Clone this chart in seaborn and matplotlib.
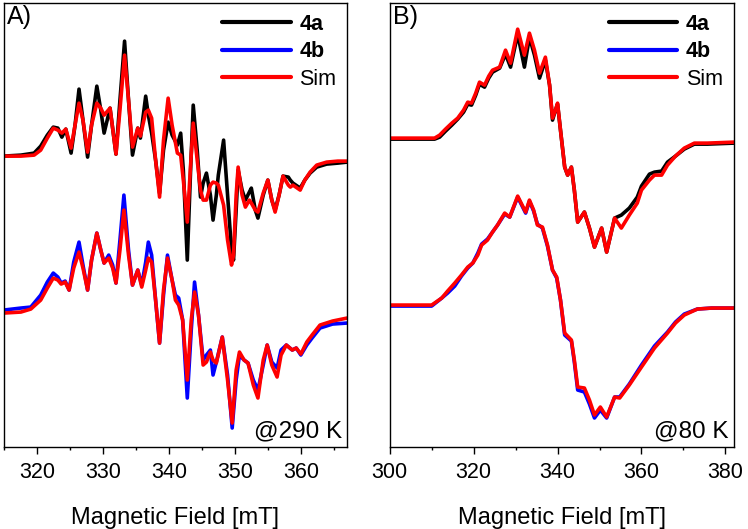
import matplotlib
matplotlib.use("Agg")
import matplotlib.pyplot as plt
from matplotlib.ticker import MultipleLocator
import seaborn as sns

# Panel A, 290 K: field [mT] and intensity [a.u., offset]
field_A_top = [315.0, 317.6, 319.6, 320.6, 321.6, 322.5, 323.2, 323.8, 324.4, 325.2,
               325.8, 326.4, 327.0, 327.7, 328.3, 329.1, 329.7, 330.2, 331.1, 332.0,
               332.6, 333.3, 333.9, 334.5, 335.3, 335.7, 336.5, 336.9, 337.4, 338.0,
               338.6, 339.2, 339.9, 340.5, 341.3, 341.8, 342.2, 342.8, 343.3, 343.7,
               344.3, 344.8, 345.2, 345.7, 346.3, 346.7, 347.2, 347.5, 348.3, 348.9,
               349.5, 349.8, 350.2, 350.5, 351.1, 351.6, 352.2, 352.5, 353.1, 353.5,
               354.3, 355.0, 355.6, 356.1, 356.7, 357.3, 358.1, 358.4, 358.8, 359.9,
               360.6, 361.4, 362.4, 363.9, 365.6, 367.0]
exp_4a_A = [3.04, 3.05, 3.07, 3.14, 3.25, 3.33, 3.32, 3.23, 3.31, 3.07,
            3.35, 3.71, 3.40, 3.03, 3.35, 3.74, 3.50, 3.27, 3.52, 3.06,
            3.60, 4.19, 3.60, 3.05, 3.32, 3.22, 3.64, 3.45, 3.27, 3.00,
            2.67, 3.10, 3.38, 3.25, 3.15, 3.27, 2.90, 2.00, 2.90, 3.55,
            3.10, 2.63, 2.77, 2.87, 2.65, 2.40, 2.65, 2.85, 3.20, 2.65,
            2.10, 2.00, 2.50, 2.90, 2.70, 2.60, 2.68, 2.72, 2.50, 2.42,
            2.65, 2.80, 2.60, 2.50, 2.65, 2.84, 2.83, 2.80, 2.77, 2.72,
            2.80, 2.87, 2.93, 2.96, 2.97, 2.98]
sim_4a_A = [3.04, 3.04, 3.05, 3.10, 3.22, 3.32, 3.30, 3.27, 3.31, 3.12,
            3.35, 3.57, 3.40, 3.08, 3.35, 3.57, 3.52, 3.45, 3.52, 3.06,
            3.50, 4.05, 3.60, 3.13, 3.32, 3.24, 3.48, 3.50, 3.42, 3.00,
            2.63, 3.20, 3.62, 3.35, 3.07, 3.05, 2.80, 2.38, 2.95, 3.37,
            3.00, 2.70, 2.60, 2.60, 2.75, 2.78, 2.77, 2.75, 2.55, 2.20,
            1.95, 2.05, 2.65, 2.93, 2.65, 2.53, 2.60, 2.57, 2.50, 2.48,
            2.67, 2.80, 2.60, 2.48, 2.65, 2.84, 2.75, 2.73, 2.75, 2.70,
            2.80, 2.88, 2.95, 2.98, 2.99, 2.99]

field_A_bot = [315.0, 317.6, 319.1, 320.6, 321.6, 322.5, 323.2, 323.7, 324.3, 324.9,
               325.6, 326.4, 327.0, 327.7, 328.3, 329.1, 329.7, 330.2, 330.9, 331.5,
               332.0, 332.6, 333.2, 333.9, 334.5, 335.3, 335.9, 336.5, 336.9, 337.4,
               338.0, 338.6, 339.2, 339.8, 340.5, 341.0, 341.5, 342.1, 342.8, 343.4,
               343.9, 344.5, 345.2, 345.7, 346.3, 346.7, 347.2, 348.1, 348.9, 349.6,
               350.2, 350.7, 351.4, 352.0, 352.8, 353.5, 354.3, 354.9, 355.6, 356.4,
               357.0, 357.8, 358.7, 359.3, 360.0, 360.9, 361.7, 362.9, 364.8, 367.0]
exp_4b_A = [1.50, 1.52, 1.53, 1.65, 1.78, 1.87, 1.83, 1.77, 1.79, 1.70,
            1.98, 2.18, 1.95, 1.70, 2.00, 2.27, 2.10, 1.97, 2.05, 1.95,
            1.77, 2.20, 2.65, 2.10, 1.75, 1.90, 1.75, 1.98, 2.18, 2.05,
            1.60, 1.17, 1.65, 2.05, 1.80, 1.65, 1.62, 1.40, 0.62, 1.30,
            1.78, 1.45, 1.00, 1.05, 1.10, 0.85, 0.98, 1.23, 0.85, 0.32,
            0.80, 1.05, 1.00, 0.97, 0.80, 0.70, 0.95, 1.15, 0.98, 0.92,
            1.10, 1.15, 1.10, 1.12, 1.05, 1.15, 1.22, 1.32, 1.36, 1.37]
sim_4b_A = [1.47, 1.48, 1.51, 1.60, 1.72, 1.82, 1.80, 1.76, 1.78, 1.70,
            1.92, 2.08, 1.92, 1.70, 2.00, 2.27, 2.10, 1.97, 2.02, 1.92,
            1.77, 2.10, 2.50, 2.05, 1.75, 1.90, 1.73, 1.90, 2.02, 1.98,
            1.60, 1.17, 1.70, 2.02, 1.80, 1.60, 1.55, 1.40, 0.80, 1.40,
            1.68, 1.45, 0.95, 0.98, 1.08, 1.00, 0.97, 1.23, 0.80, 0.37,
            0.90, 1.08, 1.00, 0.97, 0.75, 0.62, 1.00, 1.15, 0.95, 0.83,
            1.05, 1.15, 1.10, 1.12, 1.06, 1.18, 1.25, 1.35, 1.39, 1.42]

# Panel B, 80 K
field_B_top = [300.0, 310.7, 311.9, 313.3, 314.8, 316.2, 317.6, 318.6, 319.5, 320.5,
               321.4, 322.6, 323.6, 324.5, 326.2, 327.6, 328.8, 330.5, 332.1, 333.3,
               334.5, 335.7, 337.1, 338.1, 338.8, 339.5, 340.0, 340.7, 341.7, 342.4,
               343.3, 344.0, 344.8, 346.4, 347.6, 348.8, 350.5, 351.7, 353.6, 355.2,
               357.1, 359.0, 360.0, 361.9, 363.1, 364.8, 366.2, 368.1, 370.2, 372.6,
               375.7, 382.0]
exp_4a_B = [3.21, 3.21, 3.23, 3.29, 3.35, 3.41, 3.48, 3.56, 3.55, 3.65,
            3.76, 3.73, 3.82, 3.88, 3.92, 4.06, 3.93, 4.26, 3.93, 4.23,
            4.05, 3.82, 4.00, 3.75, 3.40, 3.50, 3.56, 3.30, 2.93, 2.85,
            2.93, 2.70, 2.38, 2.48, 2.32, 2.13, 2.32, 2.08, 2.42, 2.45,
            2.52, 2.63, 2.74, 2.86, 2.88, 2.89, 2.98, 3.04, 3.11, 3.16,
            3.16, 3.17]
sim_4a_B = [3.22, 3.22, 3.25, 3.31, 3.37, 3.42, 3.50, 3.58, 3.57, 3.67,
            3.78, 3.75, 3.84, 3.90, 3.93, 4.10, 3.97, 4.31, 4.05, 4.27,
            4.10, 3.87, 4.03, 3.75, 3.42, 3.50, 3.57, 3.30, 2.93, 2.85,
            2.93, 2.70, 2.38, 2.48, 2.32, 2.13, 2.32, 2.08, 2.42, 2.32,
            2.45, 2.57, 2.70, 2.80, 2.85, 2.85, 2.95, 3.04, 3.12, 3.17,
            3.17, 3.18]

field_B_bot = [300.0, 310.0, 312.4, 313.8, 315.5, 317.1, 318.6, 319.8, 321.0, 321.9,
               323.3, 324.5, 325.7, 327.4, 328.6, 330.5, 332.4, 333.3, 334.3, 335.2,
               336.4, 337.6, 338.8, 339.8, 340.7, 341.7, 343.3, 344.0, 344.8, 346.4,
               347.6, 348.8, 350.2, 351.7, 353.6, 354.8, 357.1, 360.0, 363.1, 366.2,
               368.1, 370.2, 373.3, 376.7, 382.0]
exp_4b_B = [1.54, 1.54, 1.62, 1.67, 1.74, 1.84, 1.92, 1.97, 2.07, 2.16,
            2.21, 2.28, 2.35, 2.46, 2.43, 2.63, 2.47, 2.59, 2.49, 2.36,
            2.32, 2.14, 1.90, 1.82, 1.60, 1.25, 1.19, 0.98, 0.70, 0.68,
            0.56, 0.42, 0.50, 0.42, 0.63, 0.63, 0.76, 0.95, 1.14, 1.28,
            1.38, 1.46, 1.51, 1.52, 1.52]
sim_4b_B = [1.55, 1.55, 1.62, 1.69, 1.77, 1.85, 1.93, 1.97, 2.05, 2.15,
            2.20, 2.28, 2.35, 2.47, 2.43, 2.64, 2.48, 2.60, 2.50, 2.35,
            2.33, 2.15, 1.90, 1.83, 1.60, 1.27, 1.20, 1.00, 0.73, 0.72,
            0.60, 0.45, 0.53, 0.43, 0.63, 0.62, 0.75, 0.93, 1.12, 1.27,
            1.37, 1.45, 1.51, 1.52, 1.52]

sns.set_style("ticks")
plt.rcParams['font.family'] = ['Liberation Sans', 'DejaVu Sans']
plt.rcParams['text.color'] = 'black'
plt.rcParams['axes.labelcolor'] = 'black'
plt.rcParams['xtick.color'] = 'black'

fig = plt.figure(figsize=(7.48, 5.29), dpi=100)
ax_A = fig.add_axes([0.005, 0.155, 0.459, 0.839])
ax_B = fig.add_axes([0.521, 0.155, 0.460, 0.839])

panels = [
    (ax_A, field_A_top, exp_4a_A, sim_4a_A, field_A_bot, exp_4b_A, sim_4b_A,
     (315, 367), 10, 5, "A)", "@290 K"),
    (ax_B, field_B_top, exp_4a_B, sim_4a_B, field_B_bot, exp_4b_B, sim_4b_B,
     (300, 382), 20, 10, "B)", "@80 K"),
]

for ax, ft, e4a, s4a, fb, e4b, s4b, xlim, major, minor, tag, temp in panels:
    kw = dict(lw=2.6, ax=ax, solid_joinstyle="round", solid_capstyle="round")
    sns.lineplot(x=ft, y=e4a, color="black", label="4a", **kw)
    sns.lineplot(x=fb, y=e4b, color="#0000ff", label="4b", **kw)
    sns.lineplot(x=ft, y=s4a, color="#ff0000", label="Sim", **kw)
    sns.lineplot(x=fb, y=s4b, color="#ff0000", label="_nolegend_", **kw)

    ax.set_xlim(*xlim)
    ax.set_ylim(0.13, 4.57)
    ax.set_yticks([])
    ax.xaxis.set_major_locator(MultipleLocator(major))
    ax.xaxis.set_minor_locator(MultipleLocator(minor))
    ax.tick_params(axis="x", which="major", direction="out", length=5, width=1,
                   labelsize=15.5, pad=6, colors="black")
    ax.tick_params(axis="x", which="minor", direction="out", length=2.5, width=1,
                   colors="black")
    for s in ax.spines.values():
        s.set_linewidth(1.0)
        s.set_color("black")
    ax.set_xlabel("Magnetic Field [mT]", fontsize=17, labelpad=17)
    ax.set_ylabel("")

    leg = ax.legend(loc="upper right", frameon=False, fontsize=15.5,
                    handlelength=3.2, handletextpad=0.4, labelspacing=0.3,
                    borderaxespad=0.3, borderpad=0.2)
    for t in leg.get_texts():
        t.set_color("black")
        if t.get_text() in ("4a", "4b"):
            t.set_fontweight("bold")
    for h in leg.get_lines():
        h.set_linewidth(3.0)

    ax.text(0.01, 0.995, tag, transform=ax.transAxes, ha="left", va="top",
            fontsize=18)
    ax.text(0.985, 0.01, temp, transform=ax.transAxes, ha="right", va="bottom",
            fontsize=17.5)

fig.savefig("out.png", dpi=100)
